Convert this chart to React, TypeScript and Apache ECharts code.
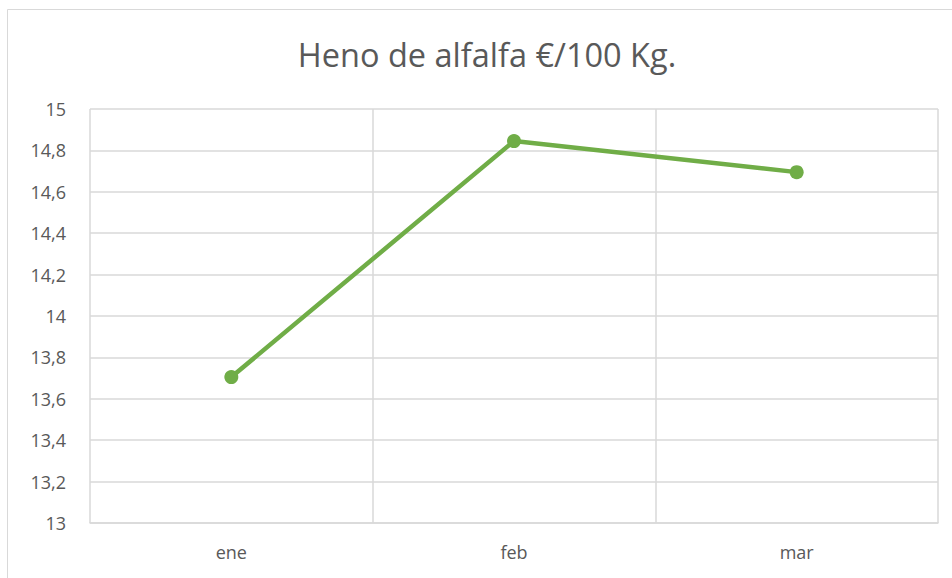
import React, { useEffect, useRef } from "react";
import * as echarts from "echarts";

const categories = ["ene", "feb", "mar"];
const values = [13.705, 14.845, 14.695];
const titleText = "Heno de alfalfa €/100 Kg.";
const yMin = 13;
const yMax = 15;
const yStep = 0.2;

export default function App() {
  const ref = useRef<HTMLDivElement>(null);
  useEffect(() => {
    if (!ref.current) return;
    const chart = echarts.init(ref.current, null, { renderer: "svg" });
    const font = "'Open Sans', Calibri, sans-serif";
    chart.setOption({
      animation: false,
      backgroundColor: "#ffffff",
      graphic: [
        {
          type: "rect",
          shape: { x: 7.5, y: 9.5, width: 980, height: 620 },
          style: { fill: "none", stroke: "#d9d9d9", lineWidth: 1 },
          silent: true,
        },
      ],
      title: {
        text: titleText,
        left: 482,
        top: 33,
        textAlign: "center",
        textStyle: { fontFamily: font, fontSize: 32.5, fontWeight: "normal", color: "#595959" },
      },
      grid: { left: 90, right: 14, top: 109, bottom: 55, containLabel: false },
      xAxis: {
        type: "category",
        data: categories,
        boundaryGap: true,
        axisLine: { show: true, lineStyle: { color: "#d9d9d9", width: 1.5 } },
        axisTick: { show: false },
        axisLabel: { color: "#595959", fontFamily: font, fontSize: 18, margin: 20 },
        splitLine: { show: true, interval: 0, lineStyle: { color: "#d9d9d9", width: 1.5 } },
      },
      yAxis: {
        type: "value",
        min: yMin,
        max: yMax,
        interval: yStep,
        axisLine: { show: false },
        axisTick: { show: false },
        axisLabel: {
          color: "#595959",
          fontFamily: font,
          fontSize: 18,
          margin: 24,
          formatter: (v: number) => String(Number(v.toFixed(1))).replace(".", ","),
        },
        splitLine: { show: true, lineStyle: { color: "#d9d9d9", width: 1.5 } },
      },
      series: [
        {
          type: "line",
          data: values,
          symbol: "circle",
          symbolSize: 14,
          lineStyle: { color: "#70ad47", width: 4.5 },
          itemStyle: { color: "#70ad47" },
        },
      ],
    });
    return () => chart.dispose();
  }, []);
  return (
    <div
      ref={ref}
      style={{ position: "fixed", left: 0, top: 0, width: 952, height: 578 }}
    />
  );
}
